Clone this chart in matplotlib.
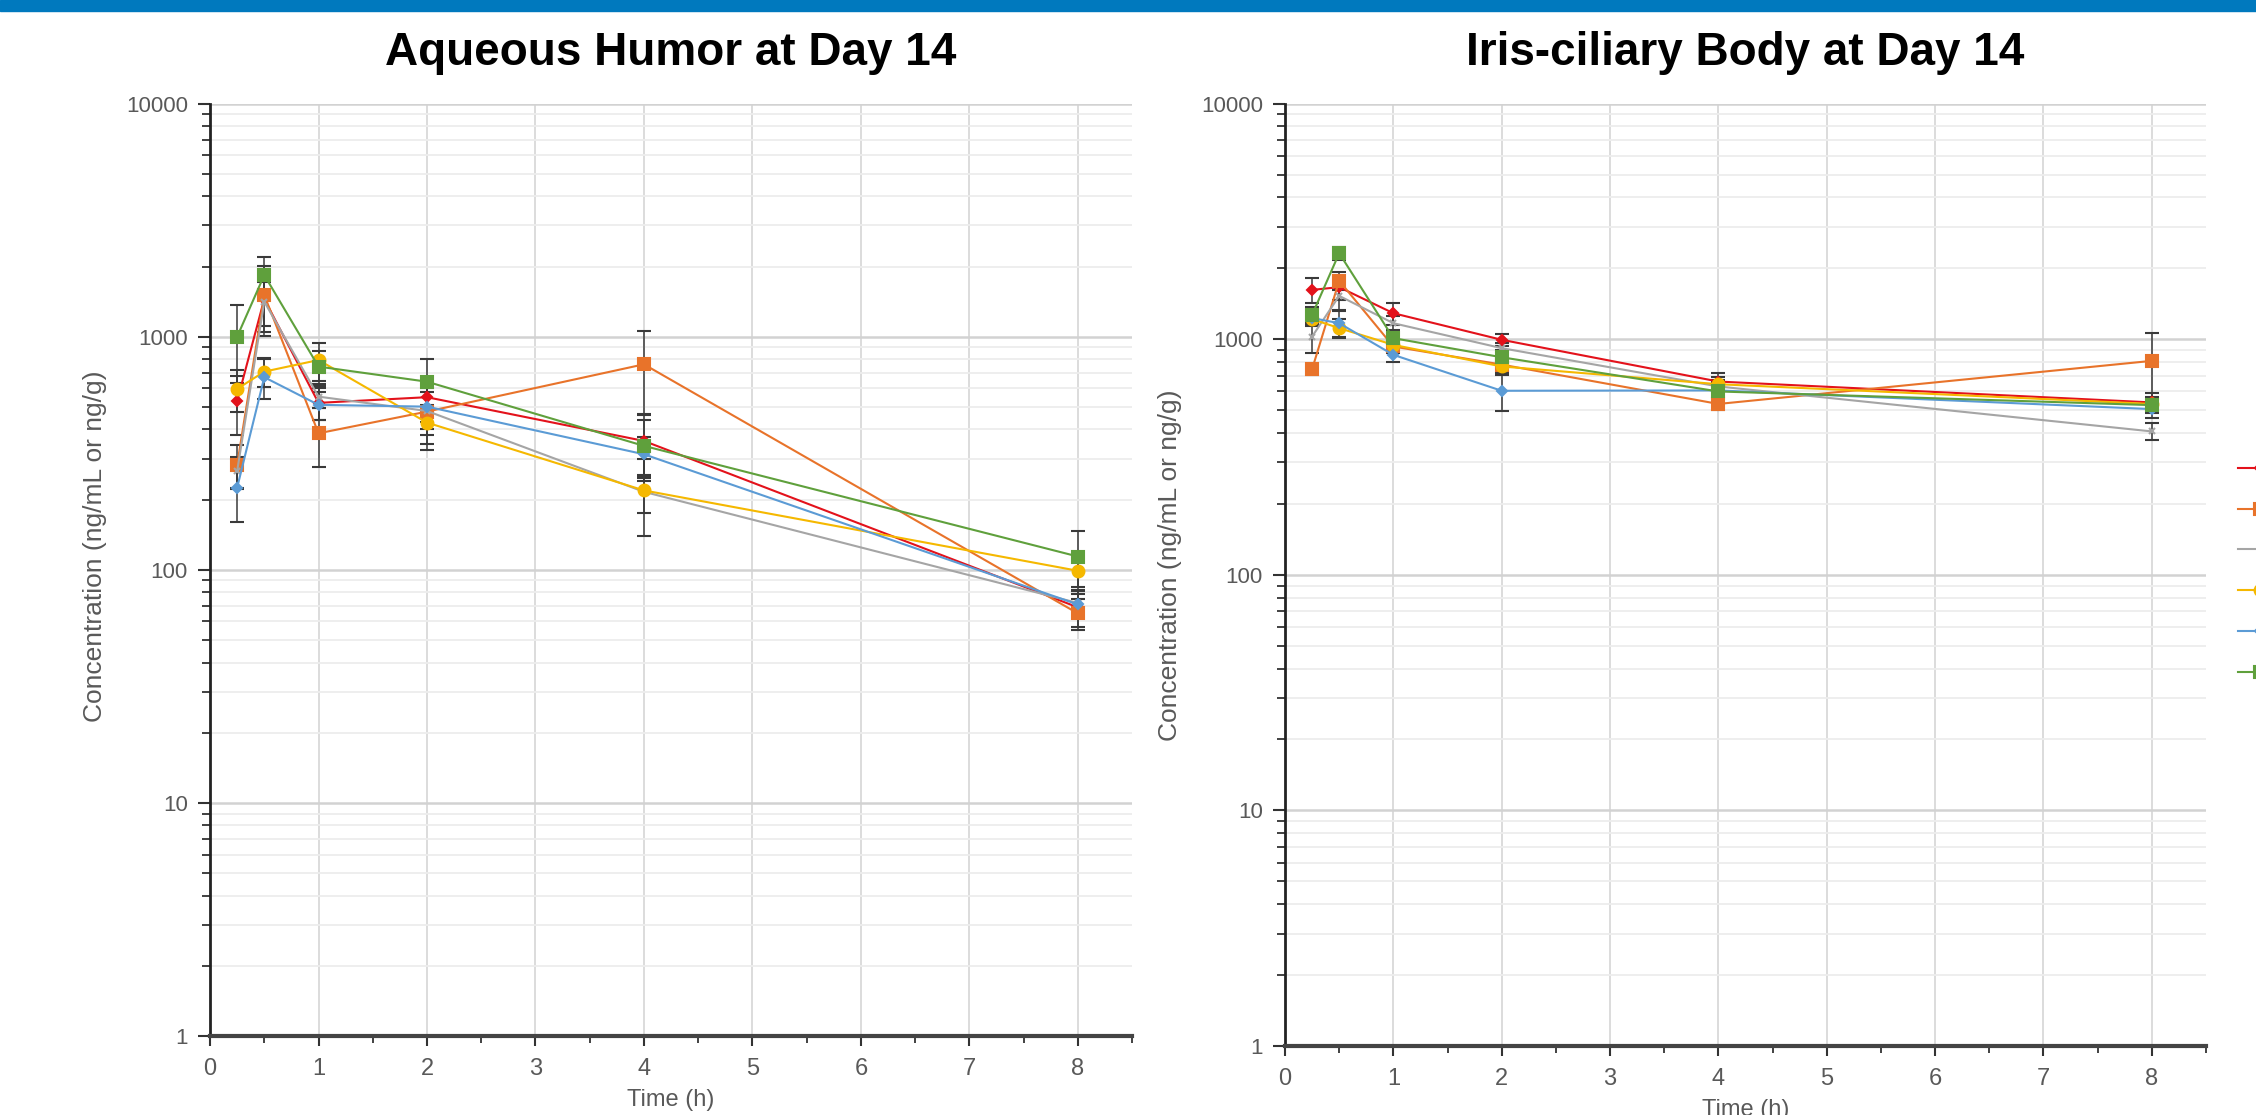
import numpy as np
import matplotlib
matplotlib.use('Agg')
import matplotlib.pyplot as plt
from matplotlib import ticker
from matplotlib.lines import Line2D
from matplotlib.patches import Rectangle

plt.rcParams['font.family'] = ['Liberation Sans', 'DejaVu Sans']

# sampling times (h)
times = [0.25, 0.5, 1, 2, 4, 8]

# aqueous humor at day 14, mean and SD (ng/mL)
ah_mean = [
    [530, 1450, 520, 550, 357, 69],     # red
    [282, 1509, 385, 477, 761, 65],     # orange
    [265, 1413, 553, 480, 216, 72],     # gray
    [597, 708, 794, 428, 219, 99],      # yellow
    [225, 670, 510, 501, 313, 71],      # blue
    [1000, 1838, 744, 641, 340, 114],   # green
]
ah_sd = [
    [150, 400, 80, 120, 110, 12],
    [60, 500, 110, 150, 300, 10],
    [40, 300, 60, 100, 40, 10],
    [120, 100, 150, 80, 80, 15],
    [65, 130, 70, 100, 60, 8],
    [366, 360, 120, 160, 100, 33],
]

# iris-ciliary body at day 14, mean and SD (ng/g)
icb_mean = [
    [1619, 1663, 1289, 994, 661, 539],
    [746, 1770, 931, 780, 531, 809],
    [1026, 1527, 1169, 916, 630, 406],
    [1216, 1114, 946, 766, 644, 531],
    [1230, 1169, 858, 604, 606, 505],
    [1268, 2317, 1010, 838, 600, 525],
]
icb_sd = [
    [200, 200, 140, 60, 60, 50],
    [40, 150, 60, 60, 30, 258],
    [150, 200, 80, 50, 40, 34],
    [80, 100, 60, 60, 50, 40],
    [80, 150, 60, 110, 40, 40],
    [100, 150, 60, 60, 60, 40],
]

colors = ['#E3121B', '#E8732A', '#A5A5A5', '#F5B800', '#5B9BD5', '#5FA03C']
markers = ['D', 's', 'x', 'o', 'D', 's']
msizes = [5, 9, 5, 8.5, 5.5, 9]

fig = plt.figure(figsize=(22.56, 11.15), dpi=100)
fig.patches.append(Rectangle((0, 1 - 11 / 1115), 1, 11 / 1115, transform=fig.transFigure,
                             color='#0079BE', zorder=0))

ax1 = fig.add_axes([0.0931, 0.0709, 0.4087, 0.8362])
ax2 = fig.add_axes([0.5696, 0.0619, 0.4082, 0.8452])


def panel(ax, means, sds, title, label_y):
    for m, s, c, mk, ms in zip(means, sds, colors, markers, msizes):
        ax.errorbar(times, m, yerr=s, color=c, marker=mk, ms=ms, mec=c, mew=1.5,
                    lw=1.5, ecolor='#3a3a3a', elinewidth=1.1, capsize=5, capthick=1.1)
    ax.set_yscale('log')
    ax.set_ylim(1, 10000)
    ax.set_xlim(0, 8.5)
    ax.xaxis.set_major_locator(ticker.MultipleLocator(1))
    ax.xaxis.set_minor_locator(ticker.MultipleLocator(0.5))
    ax.yaxis.set_major_formatter(ticker.FuncFormatter(lambda v, _: f'{v:g}'))
    ax.yaxis.set_minor_formatter(ticker.NullFormatter())
    ax.grid(True, which='major', axis='y', color='#D2D2D2', lw=1.8)
    ax.grid(True, which='minor', axis='y', color='#EDEDED', lw=1.3)
    ax.grid(True, which='major', axis='x', color='#DCDCDC', lw=1.4)
    ax.set_axisbelow(True)
    for side in ['top', 'right']:
        ax.spines[side].set_visible(False)
    ax.spines['left'].set_linewidth(2)
    ax.spines['left'].set_color('#222222')
    ax.spines['bottom'].set_linewidth(3)
    ax.spines['bottom'].set_color('#444444')
    ax.tick_params(axis='y', which='major', length=9, width=1.5, color='#333333',
                   labelsize=16, labelcolor='#595959', pad=7)
    ax.tick_params(axis='y', which='minor', length=6, width=1.3, color='#333333')
    ax.tick_params(axis='x', which='major', length=7, width=1.5, color='#333333',
                   labelsize=17, labelcolor='#595959', pad=9)
    ax.tick_params(axis='x', which='minor', length=5, width=1.3, color='#333333')
    ax.set_xlabel('Time (h)', fontsize=17, color='#595959', labelpad=6)
    ax.set_ylabel('Concentration (ng/mL or ng/g)', fontsize=19, color='#595959')
    ax.yaxis.set_label_coords(-0.112, label_y)
    ax.set_title(title, fontsize=33, fontweight='bold', pad=28)


panel(ax1, ah_mean, ah_sd, 'Aqueous Humor at Day 14', 0.525)
panel(ax2, icb_mean, icb_sd, 'Iris-ciliary Body at Day 14', 0.51)

handles = [Line2D([], [], color=c, marker=mk, ms=ms, mec=c, mew=1.5, lw=1.5)
           for c, mk, ms in zip(colors, markers, msizes)]
fig.legend(handles, [''] * len(handles), loc='upper left',
           bbox_to_anchor=(2238 / 2256, 1 - 460 / 1115), frameon=False, fontsize=15,
           handlelength=2.1, handletextpad=0.2, borderpad=0, borderaxespad=0,
           labelspacing=1.05)

fig.savefig('out.png', dpi=100)
